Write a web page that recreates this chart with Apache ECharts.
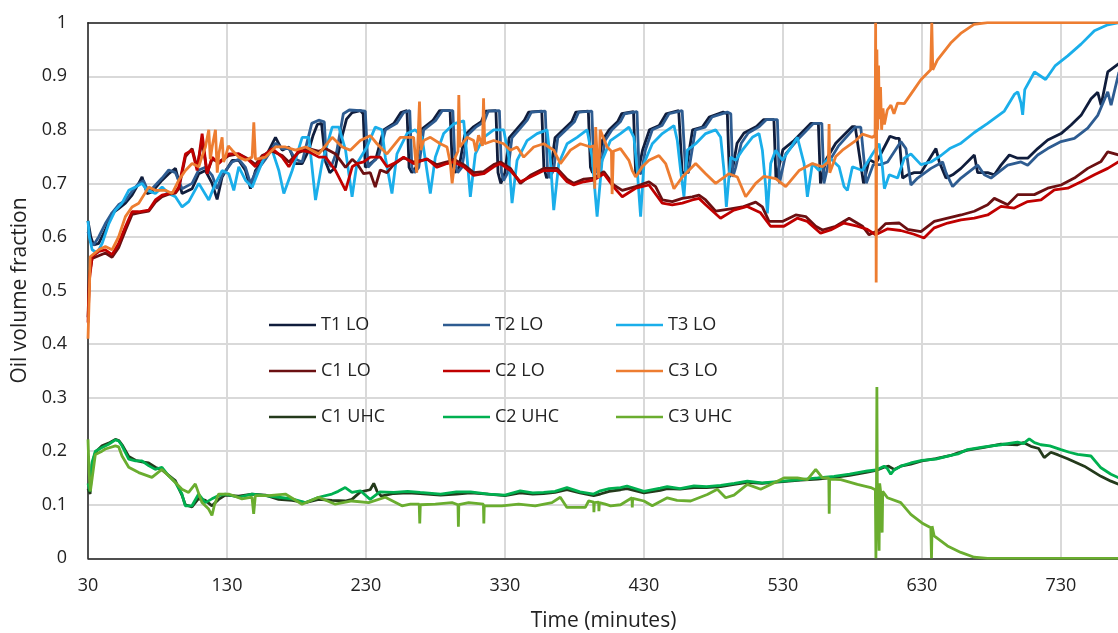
<!DOCTYPE html>
<html>
<head>
<meta charset="utf-8">
<script src="https://cdn.jsdelivr.net/npm/echarts@6/dist/echarts.min.js"></script>
<style>
  html, body { margin: 0; padding: 0; background: #fff; }
  #chart { width: 1118px; height: 633px; }
</style>
</head>
<body>
<div id="chart"></div>
<script>
// Oil volume fraction over time, [minutes, fraction] pairs per probe
const t1Lo = [[30,0.63],[32,0.60],[34,0.585],[37.7,0.588],[42.5,0.613],[47.3,0.644],[52,0.653],[56.9,0.663],[61.7,0.678],[66.5,0.70],[68.9,0.712],[72.5,0.681],[76.1,0.684],[83.3,0.706],[88.1,0.718],[92.9,0.728],[97.7,0.681],[104.9,0.69],[109.7,0.718],[114.5,0.724],[119.3,0.70],[122.9,0.67],[126.5,0.712],[133.7,0.743],[138.5,0.743],[143.3,0.724],[146.9,0.69],[150.5,0.724],[157.7,0.749],[164.9,0.786],[169.7,0.762],[174.5,0.768],[179.3,0.737],[184.1,0.737],[188.9,0.762],[192,0.79],[195,0.81],[198,0.812],[201,0.74],[204,0.72],[208,0.73],[212,0.78],[216,0.82],[220,0.832],[226,0.836],[228,0.83],[229.5,0.73],[233,0.737],[237,0.745],[242.7,0.80],[250,0.812],[255,0.832],[259.5,0.836],[261,0.73],[263,0.72],[266,0.73],[269.5,0.80],[278,0.817],[283,0.836],[290.5,0.836],[292,0.74],[294,0.72],[297,0.73],[301,0.79],[307,0.805],[313,0.815],[316,0.835],[323.5,0.836],[325,0.72],[327,0.70],[330,0.72],[333,0.785],[338,0.80],[344,0.818],[347,0.833],[356.5,0.835],[358,0.73],[360,0.71],[363,0.725],[366,0.785],[372,0.80],[378,0.815],[381,0.833],[390,0.835],[391.5,0.73],[393,0.72],[397,0.73],[400,0.78],[405,0.80],[411,0.815],[414,0.83],[422.5,0.834],[424,0.72],[425.5,0.718],[429,0.762],[434,0.80],[441,0.808],[446,0.83],[455,0.836],[457.5,0.72],[460,0.72],[465,0.80],[472,0.805],[477,0.824],[487,0.833],[490,0.83],[491.5,0.712],[494,0.73],[497,0.775],[502,0.794],[511,0.806],[516,0.819],[523.5,0.819],[525,0.707],[530,0.763],[538,0.78],[550,0.812],[555.5,0.812],[557,0.70],[561,0.744],[568,0.775],[580,0.806],[582,0.806],[588,0.70],[592,0.744],[597,0.738],[607,0.788],[611.3,0.784],[613.7,0.784],[616.1,0.71],[619.7,0.716],[624.5,0.72],[629.3,0.72],[640.1,0.765],[642.5,0.74],[647.3,0.71],[652.1,0.716],[658.1,0.728],[667.7,0.753],[670.1,0.72],[677.3,0.72],[682.1,0.716],[686.9,0.734],[692.9,0.753],[698.9,0.747],[706.1,0.747],[713.3,0.765],[720.5,0.781],[730.1,0.793],[737.3,0.809],[744.5,0.827],[751.7,0.858],[756.5,0.87],[758.9,0.846],[763.7,0.908],[771.8,0.924]];

const t2Lo = [[30,0.61],[32,0.59],[34,0.585],[37.7,0.60],[42.5,0.625],[47.3,0.645],[52,0.66],[56.9,0.668],[61.7,0.685],[66.5,0.70],[70,0.705],[72.5,0.69],[76.1,0.69],[83.3,0.71],[88.1,0.725],[92.9,0.72],[97.7,0.69],[104.9,0.70],[109.7,0.725],[114.5,0.73],[119.3,0.715],[122.9,0.69],[126.5,0.715],[133.7,0.74],[138.5,0.745],[143.3,0.73],[146.9,0.70],[150.5,0.72],[157.7,0.745],[164.9,0.775],[169.7,0.765],[174.5,0.765],[179.3,0.745],[184.1,0.74],[188.9,0.79],[191,0.812],[196,0.818],[200,0.815],[201.5,0.744],[205,0.731],[209,0.76],[213.7,0.83],[218,0.837],[226,0.836],[229.5,0.835],[231.5,0.73],[235,0.74],[239,0.75],[244,0.80],[252,0.812],[257,0.832],[261.5,0.836],[263,0.73],[265,0.72],[268,0.73],[271.5,0.80],[280,0.817],[285,0.836],[292.5,0.836],[294,0.74],[296,0.72],[299,0.73],[303,0.79],[309,0.805],[315,0.815],[318,0.835],[326,0.836],[327.5,0.72],[329,0.705],[332,0.72],[335,0.785],[340,0.80],[346,0.818],[349,0.833],[359,0.835],[360.5,0.73],[362,0.71],[365,0.725],[368,0.785],[374,0.80],[380,0.815],[383,0.833],[392.5,0.835],[394,0.73],[395.5,0.72],[399,0.73],[402,0.78],[407,0.80],[413,0.815],[416,0.83],[425,0.834],[426.5,0.72],[428,0.718],[431,0.762],[436,0.80],[443,0.808],[448,0.83],[457.5,0.836],[460,0.72],[462,0.72],[467,0.80],[474,0.805],[479,0.824],[490,0.833],[492.5,0.83],[494,0.712],[496,0.73],[500,0.775],[505,0.794],[513,0.806],[518,0.819],[526,0.819],[527.5,0.70],[532,0.755],[540,0.78],[552,0.812],[558,0.812],[559.5,0.70],[563,0.74],[570,0.77],[582,0.805],[586,0.805],[590,0.70],[595,0.735],[600,0.735],[605.3,0.74],[614.9,0.778],[618.5,0.765],[622.1,0.697],[626.9,0.71],[636.5,0.728],[644.9,0.74],[647.3,0.72],[652.1,0.694],[658.1,0.71],[670.1,0.734],[674.9,0.716],[679.7,0.71],[691.7,0.734],[701.3,0.74],[706.1,0.734],[713.3,0.753],[720.5,0.765],[730.1,0.778],[739.7,0.784],[749.3,0.803],[756.5,0.827],[763.7,0.871],[766.1,0.846],[771.8,0.908]];

const t3Lo = [[30,0.63],[31,0.60],[33,0.576],[36.6,0.57],[40.2,0.588],[45,0.625],[49.7,0.65],[54.5,0.663],[59.3,0.687],[64.1,0.693],[68.9,0.70],[72.5,0.687],[78.5,0.681],[83.3,0.693],[88.1,0.681],[92.9,0.675],[97.7,0.656],[102.5,0.666],[109.7,0.70],[116.9,0.669],[121.7,0.70],[126.5,0.724],[131.3,0.718],[134.9,0.687],[138.5,0.731],[143.3,0.706],[148.1,0.693],[152.9,0.724],[157.7,0.755],[162.5,0.762],[167.3,0.724],[170.9,0.681],[176.9,0.724],[184.1,0.786],[188.9,0.786],[193.7,0.669],[198.5,0.74],[205.7,0.805],[210.5,0.805],[215.3,0.762],[220,0.675],[223.5,0.737],[230.7,0.768],[236.7,0.805],[241.5,0.80],[243.9,0.749],[248.7,0.681],[252.3,0.755],[259.5,0.793],[265.5,0.80],[270.3,0.786],[276.3,0.681],[279.9,0.749],[285.9,0.793],[293.1,0.811],[300.3,0.817],[302.7,0.749],[305.1,0.675],[308.7,0.755],[314.7,0.786],[321.9,0.80],[329.1,0.80],[332.7,0.749],[335.1,0.663],[338.7,0.743],[345.9,0.78],[353.1,0.793],[360.3,0.80],[362.7,0.743],[365.1,0.65],[368.7,0.737],[374.7,0.774],[381.9,0.786],[389.1,0.80],[392.7,0.749],[396.3,0.638],[399.9,0.743],[405.9,0.78],[413.1,0.793],[419.2,0.805],[422.8,0.786],[425.2,0.724],[427.6,0.638],[430,0.737],[436,0.774],[443.2,0.793],[451.6,0.808],[454,0.78],[456.4,0.724],[458.8,0.675],[461.2,0.762],[467.2,0.774],[474.4,0.793],[481.6,0.80],[485.2,0.786],[487.6,0.724],[489.3,0.656],[492.4,0.749],[496,0.743],[500.8,0.762],[508,0.786],[512.8,0.793],[515.2,0.762],[517.6,0.694],[518.8,0.644],[521.2,0.737],[524.8,0.762],[529.6,0.743],[534.4,0.762],[540.4,0.786],[545.2,0.737],[547.6,0.675],[551.2,0.737],[556,0.724],[563.2,0.749],[570.4,0.731],[574,0.694],[576.4,0.687],[580,0.731],[587.2,0.724],[594.4,0.755],[599.2,0.774],[601.6,0.73],[603,0.69],[606.5,0.716],[612.5,0.71],[617.3,0.747],[622.1,0.755],[629.3,0.735],[636.5,0.74],[643.7,0.752],[650,0.765],[658.1,0.775],[667.7,0.795],[677.3,0.812],[689.3,0.835],[696.5,0.866],[699,0.871],[701.3,0.85],[702.5,0.828],[704,0.875],[711,0.908],[719,0.894],[726,0.92],[734.9,0.938],[744.5,0.96],[754.1,0.985],[763.7,0.996],[771.8,1.0]];

const c1Lo = [[30,0.45],[31,0.53],[33,0.56],[37.7,0.565],[42.5,0.57],[47.3,0.562],[52,0.58],[56.9,0.612],[61.7,0.642],[66.5,0.645],[73.7,0.648],[78.5,0.665],[83.3,0.675],[88.1,0.68],[92.9,0.682],[95.3,0.69],[100.1,0.75],[104.9,0.765],[108.5,0.73],[112.1,0.78],[115.7,0.72],[119.3,0.745],[124.1,0.74],[131.3,0.752],[138.5,0.755],[145.7,0.745],[150.5,0.735],[155.3,0.752],[162.5,0.76],[169.7,0.752],[174.5,0.74],[181.7,0.758],[188.9,0.765],[196.1,0.76],[200.9,0.765],[208.1,0.755],[215.3,0.73],[220.1,0.745],[223.5,0.737],[228.3,0.718],[233.1,0.72],[236.7,0.693],[240.3,0.725],[245.1,0.72],[249.9,0.735],[257.1,0.748],[264.3,0.74],[273.9,0.745],[281.1,0.735],[288.3,0.74],[293.1,0.745],[300.3,0.735],[307.5,0.72],[314.7,0.722],[321.9,0.735],[326.7,0.74],[333.9,0.728],[341.1,0.70],[348.3,0.715],[357.9,0.728],[367.5,0.728],[374.7,0.708],[379.5,0.70],[386.7,0.708],[393.9,0.71],[401.1,0.722],[408.3,0.697],[414.4,0.687],[424,0.694],[433.6,0.703],[438.4,0.694],[443.2,0.669],[450.4,0.666],[457.6,0.672],[464.8,0.675],[469.6,0.678],[474.4,0.669],[481.6,0.648],[491.2,0.652],[500.8,0.656],[510.4,0.665],[515.2,0.656],[520,0.629],[529.6,0.629],[539.2,0.641],[546.4,0.638],[553.6,0.62],[558.4,0.613],[568,0.62],[577.6,0.635],[587.2,0.62],[592,0.604],[599.2,0.613],[604,0.625],[613.7,0.626],[619.7,0.614],[629.3,0.61],[638.9,0.629],[648.5,0.635],[658.1,0.641],[667.7,0.648],[677.3,0.66],[682.1,0.672],[691.7,0.66],[698.9,0.679],[710.9,0.679],[720.5,0.691],[730.1,0.697],[739.7,0.71],[749.3,0.728],[758.9,0.741],[763.7,0.759],[771.8,0.753]];

const c2Lo = [[30,0.44],[31,0.52],[33,0.563],[37.7,0.573],[42.5,0.576],[47.3,0.567],[52,0.588],[56.9,0.619],[61.7,0.647],[66.5,0.647],[73.7,0.65],[78.5,0.669],[83.3,0.678],[88.1,0.681],[92.9,0.684],[95.3,0.693],[100.1,0.755],[104.9,0.762],[108.5,0.724],[112.1,0.793],[115.7,0.718],[119.3,0.749],[124.1,0.737],[131.3,0.755],[138.5,0.755],[145.7,0.743],[150.5,0.731],[155.3,0.749],[162.5,0.765],[169.7,0.749],[174.5,0.731],[181.7,0.762],[188.9,0.759],[196.1,0.749],[200.9,0.749],[208.1,0.724],[215.3,0.687],[220.1,0.731],[223.5,0.737],[228.3,0.74],[233.1,0.749],[240.3,0.749],[245.1,0.731],[249.9,0.737],[257.1,0.749],[264.3,0.737],[273.9,0.746],[281.1,0.73],[288.3,0.737],[293.1,0.74],[300.3,0.731],[307.5,0.715],[314.7,0.718],[321.9,0.731],[326.7,0.737],[333.9,0.724],[341.1,0.703],[348.3,0.712],[357.9,0.724],[367.5,0.724],[374.7,0.703],[379.5,0.697],[386.7,0.703],[393.9,0.706],[401.1,0.718],[408.3,0.693],[414.4,0.675],[424,0.691],[433.6,0.697],[443.2,0.663],[450.4,0.66],[457.6,0.663],[464.8,0.669],[469.6,0.672],[474.4,0.66],[485.1,0.635],[494.7,0.65],[504.3,0.657],[513.9,0.645],[521.1,0.62],[530.7,0.62],[540.3,0.635],[547.5,0.629],[557.1,0.607],[564.3,0.613],[573.9,0.626],[583.5,0.62],[590.7,0.614],[596.7,0.604],[605.1,0.615],[614.7,0.612],[624.3,0.605],[631.5,0.598],[638.9,0.617],[648.5,0.626],[658.1,0.632],[667.7,0.635],[677.3,0.641],[686.9,0.657],[696.5,0.654],[706.1,0.666],[715.7,0.669],[725.3,0.688],[734.9,0.691],[744.5,0.703],[754.1,0.716],[763.7,0.728],[771.8,0.741]];

const c3Lo = [[30,0.41],[31,0.50],[31.6,0.563],[37.7,0.576],[42.5,0.582],[47.3,0.576],[52,0.60],[56.9,0.638],[61.7,0.656],[66.5,0.663],[73.7,0.693],[78.5,0.687],[85.7,0.687],[90.5,0.681],[95.3,0.706],[100.1,0.724],[104.9,0.737],[109.7,0.731],[112,0.75],[114.5,0.768],[116.9,0.80],[118,0.745],[119.3,0.768],[121.7,0.80],[123,0.72],[124.1,0.755],[126.5,0.786],[127.5,0.74],[128.9,0.749],[131,0.77],[133.7,0.762],[138.5,0.749],[143.3,0.743],[148.1,0.749],[149.3,0.814],[150.5,0.745],[151.7,0.743],[157.7,0.749],[164.9,0.768],[172.1,0.768],[179.3,0.762],[186.5,0.768],[196.1,0.755],[205.7,0.786],[212.9,0.768],[218.7,0.762],[225.9,0.78],[233.1,0.789],[237.9,0.774],[245.1,0.755],[254.7,0.786],[264.3,0.786],[266.5,0.72],[267.4,0.78],[268.5,0.853],[269.5,0.762],[271.5,0.78],[276.3,0.786],[283.5,0.774],[288.3,0.768],[290.7,0.737],[292,0.70],[294.3,0.749],[296.2,0.76],[296.8,0.865],[297.6,0.768],[302.7,0.786],[307.5,0.78],[309,0.76],[311,0.79],[313.8,0.77],[314.6,0.859],[315.4,0.774],[321.9,0.78],[329.1,0.774],[333.9,0.762],[338.7,0.768],[343.5,0.749],[350.7,0.768],[357.9,0.774],[365.1,0.762],[369.9,0.737],[377.1,0.762],[384.3,0.774],[391.5,0.768],[394,0.77],[394.6,0.69],[395.3,0.805],[396.3,0.75],[397.5,0.71],[398.5,0.80],[403.5,0.768],[406.6,0.76],[407.1,0.68],[408,0.76],[413.1,0.765],[419.2,0.743],[421.6,0.724],[424,0.712],[428.8,0.731],[433.6,0.743],[440.8,0.752],[445.6,0.737],[451.6,0.69],[457.6,0.712],[467.2,0.737],[474.4,0.718],[481.6,0.70],[491.2,0.718],[497.2,0.712],[503.2,0.675],[510.4,0.70],[516.3,0.713],[524.8,0.709],[532,0.694],[541.6,0.724],[551.2,0.737],[558.4,0.731],[562.7,0.74],[563.2,0.811],[563.7,0.72],[568,0.75],[572.8,0.762],[582.4,0.78],[587.2,0.792],[594.4,0.786],[596.3,0.79],[596.7,1.0],[597.1,0.515],[597.6,0.95],[598.2,0.80],[598.8,0.92],[599.4,0.82],[600.2,0.88],[601,0.80],[602,0.84],[603,0.81],[605.1,0.837],[607.7,0.846],[609.9,0.83],[612.5,0.85],[617.3,0.849],[624.3,0.875],[629.1,0.893],[636.3,0.912],[637.1,1.0],[637.8,0.912],[641.1,0.93],[650.7,0.962],[657.9,0.98],[667.5,0.997],[677.1,1.0],[771.8,1.0]];

const c1Uhc = [[30,0.13],[31.5,0.12],[32.9,0.175],[35.3,0.198],[40.1,0.21],[44.9,0.215],[49.7,0.222],[52.1,0.22],[54.5,0.212],[59.3,0.19],[64.1,0.183],[68.8,0.18],[73.6,0.178],[78.4,0.17],[83.2,0.165],[88,0.155],[92.8,0.145],[97.6,0.118],[100,0.1],[104.8,0.096],[109.6,0.112],[114.4,0.108],[119.2,0.098],[124,0.11],[128.8,0.118],[138.4,0.116],[148,0.12],[157.6,0.118],[167.2,0.11],[176.8,0.108],[186.4,0.104],[196,0.11],[205.5,0.108],[215.1,0.107],[219.9,0.11],[226,0.124],[233,0.128],[235.6,0.14],[238,0.125],[241,0.116],[250,0.121],[260,0.122],[269,0.121],[283.7,0.118],[295,0.12],[305.3,0.122],[318,0.12],[330,0.117],[341,0.122],[350,0.12],[357.8,0.121],[366,0.123],[374.6,0.128],[384,0.122],[393.8,0.117],[398.6,0.12],[405,0.125],[413.2,0.128],[417.8,0.13],[430,0.122],[441.8,0.127],[446.8,0.13],[456,0.129],[466,0.132],[475,0.132],[485.2,0.134],[495,0.138],[504.4,0.142],[515,0.14],[530,0.143],[542.8,0.146],[555,0.148],[566.8,0.151],[578,0.155],[590.8,0.161],[597,0.164],[602.8,0.17],[606,0.172],[610,0.166],[614.8,0.172],[622,0.176],[630,0.182],[640,0.186],[650.8,0.192],[656,0.197],[662.8,0.202],[674.8,0.207],[686.8,0.213],[698.8,0.212],[703,0.216],[708.4,0.209],[714,0.205],[718,0.188],[722.8,0.198],[728,0.193],[734.8,0.186],[746.8,0.172],[758.8,0.153],[766,0.144],[771.8,0.138]];

const c2Uhc = [[30,0.14],[31.5,0.125],[32.9,0.179],[35.3,0.20],[40.1,0.207],[44.9,0.213],[49.7,0.221],[52.1,0.219],[54.5,0.21],[59.3,0.185],[64.1,0.182],[68.8,0.182],[73.6,0.173],[78.4,0.166],[83.2,0.17],[88,0.154],[92.8,0.142],[97.6,0.12],[100,0.098],[104.8,0.098],[109.6,0.12],[114.4,0.104],[119.2,0.111],[124,0.117],[128.8,0.12],[138.4,0.114],[148,0.12],[157.6,0.117],[167.2,0.114],[176.8,0.111],[186.4,0.104],[196,0.114],[205.5,0.12],[210,0.125],[215.1,0.132],[219.9,0.123],[226,0.126],[233,0.11],[240,0.124],[250,0.123],[260,0.125],[269,0.123],[283.7,0.12],[295,0.124],[305.3,0.124],[318,0.12],[330,0.118],[341,0.126],[350,0.122],[357.8,0.123],[366,0.125],[374.6,0.132],[384,0.124],[393.8,0.12],[398.6,0.126],[405,0.13],[413.2,0.132],[417.8,0.135],[430,0.125],[441.8,0.131],[446.8,0.134],[456,0.13],[466,0.135],[475,0.134],[485.2,0.136],[495,0.14],[504.4,0.144],[515,0.141],[530,0.144],[542.8,0.147],[555,0.15],[566.8,0.153],[578,0.157],[590.8,0.163],[597,0.165],[602.8,0.172],[605,0.168],[607.6,0.157],[610,0.165],[614.8,0.172],[622,0.178],[630,0.183],[640,0.185],[650.8,0.192],[656,0.195],[662.8,0.203],[674.8,0.208],[686.8,0.212],[698.8,0.217],[703,0.214],[707.2,0.223],[711,0.216],[715.6,0.212],[722,0.21],[730,0.203],[736,0.198],[742,0.194],[751.6,0.191],[758.8,0.169],[766,0.157],[771.8,0.15]];

const c3Uhc = [[30,0.222],[30.8,0.16],[31.7,0.125],[33,0.15],[35.3,0.194],[40.1,0.20],[42.5,0.204],[49.7,0.21],[52.1,0.208],[54.5,0.191],[59.3,0.17],[66.5,0.16],[76,0.151],[83.2,0.166],[90.4,0.148],[97.6,0.129],[102.4,0.123],[107.2,0.139],[112,0.104],[116.8,0.092],[119.2,0.08],[121,0.10],[124,0.12],[131.2,0.12],[140.8,0.111],[148,0.114],[149.2,0.083],[150.4,0.117],[160,0.117],[172,0.12],[184,0.101],[196,0.114],[207.9,0.101],[219.9,0.107],[231.9,0.104],[243.9,0.114],[255.9,0.098],[262,0.101],[268.3,0.101],[268.7,0.065],[269.1,0.10],[279.9,0.101],[291.9,0.104],[296.2,0.10],[296.5,0.059],[296.8,0.10],[303.9,0.104],[314.5,0.101],[314.8,0.065],[315.1,0.098],[327.8,0.098],[339.8,0.101],[351.8,0.098],[363.8,0.104],[369.8,0.114],[374.6,0.095],[383,0.095],[387.8,0.095],[390.2,0.107],[393.8,0.105],[394,0.086],[394.3,0.104],[397.4,0.105],[397.6,0.088],[397.9,0.104],[402.2,0.101],[406,0.098],[413.2,0.10],[421.4,0.113],[421.6,0.095],[421.9,0.112],[430,0.107],[436,0.098],[446.8,0.113],[453.8,0.108],[463.6,0.107],[475.6,0.119],[482.8,0.129],[488.8,0.113],[494.8,0.118],[504.4,0.138],[514,0.129],[521.2,0.138],[530.7,0.15],[540.4,0.15],[547.6,0.147],[553.6,0.166],[558.4,0.15],[563,0.15],[563.3,0.083],[563.6,0.148],[571.6,0.147],[583.6,0.138],[593.2,0.132],[596.5,0.128],[596.9,0],[597.3,0.13],[597.6,0.32],[597.9,0.14],[598.5,0.10],[599.2,0.014],[599.6,0.14],[600.5,0.12],[601.4,0.048],[601.8,0.125],[605.2,0.113],[614.8,0.104],[622,0.082],[630,0.066],[636.4,0.057],[636.9,0],[637.3,0.06],[638.8,0.042],[648.4,0.023],[658,0.011],[667.6,0.002],[677.2,0],[771.8,0]];

const seriesNames = ['T1 LO','T2 LO','T3 LO','C1 LO','C2 LO','C3 LO','C1 UHC','C2 UHC','C3 UHC'];
const seriesData = [t1Lo, t2Lo, t3Lo, c1Lo, c2Lo, c3Lo, c1Uhc, c2Uhc, c3Uhc];
const seriesColors = ['#101d3c','#2e5c91','#1aaeea','#6b1012','#c00000','#ed7d31','#243a1b','#00b050','#6aad2f'];

const xMin = 30, xMax = 771.8, xStep = 100;
const yMin = 0, yMax = 1, yStep = 0.1;

const FONT = "'Open Sans', sans-serif";
const chart = echarts.init(document.getElementById('chart'), null, { renderer: 'canvas' });

// three legend columns laid out inside the plot area
const legendBase = {
  orient: 'vertical',
  icon: 'rect',
  itemWidth: 47,
  itemHeight: 2.5,
  itemGap: 26,
  padding: 0,
  textStyle: { fontFamily: FONT, fontSize: 18, color: '#222', lineHeight: 20 },
  selectedMode: false,
  top: 315
};

chart.setOption({
  animation: false,
  backgroundColor: '#fff',
  grid: { left: 88, top: 22.7, width: 1031, bottom: 74.7, containLabel: false, outerBoundsMode: 'none' },
  legend: [
    Object.assign({}, legendBase, { left: 269, data: ['T1 LO', 'C1 LO', 'C1 UHC'] }),
    Object.assign({}, legendBase, { left: 443, data: ['T2 LO', 'C2 LO', 'C2 UHC'] }),
    Object.assign({}, legendBase, { left: 616, data: ['T3 LO', 'C3 LO', 'C3 UHC'] })
  ],
  xAxis: [
    {
      type: 'value', min: xMin, max: xMax, interval: xStep,
      name: 'Time (minutes)', nameLocation: 'middle', nameGap: 52,
      nameTextStyle: { fontFamily: FONT, fontSize: 21, color: '#222' },
      axisLine: { lineStyle: { color: '#222', width: 1.5 } },
      axisTick: { show: false },
      axisLabel: { fontFamily: FONT, fontSize: 18, color: '#222', margin: 19, showMaxLabel: false },
      splitLine: { show: true, lineStyle: { color: '#d9d9d9', width: 2 } }
    },
    {
      type: 'value', position: 'top', min: xMin, max: xMax,
      axisLine: { show: true, lineStyle: { color: '#222', width: 1.5 } },
      axisTick: { show: false }, axisLabel: { show: false }, splitLine: { show: false }
    }
  ],
  yAxis: {
    type: 'value', min: yMin, max: yMax, interval: yStep,
    name: 'Oil volume fraction', nameLocation: 'middle', nameGap: 45,
    nameTextStyle: { fontFamily: FONT, fontSize: 21, color: '#222' },
    axisLine: { show: true, lineStyle: { color: '#222', width: 1.5 } },
    axisTick: { show: false },
    axisLabel: { fontFamily: FONT, fontSize: 18, color: '#222', margin: 21,
      formatter: v => (Math.round(v * 10) / 10).toString() },
    splitLine: { show: true, lineStyle: { color: '#d9d9d9', width: 2 } }
  },
  series: seriesNames.map((name, i) => ({
    name: name,
    type: 'line',
    data: seriesData[i],
    symbol: 'none',
    sampling: 'none',
    color: seriesColors[i],
    lineStyle: { width: 2.8, color: seriesColors[i] },
    xAxisIndex: 0
  }))
});
</script>
</body>
</html>
